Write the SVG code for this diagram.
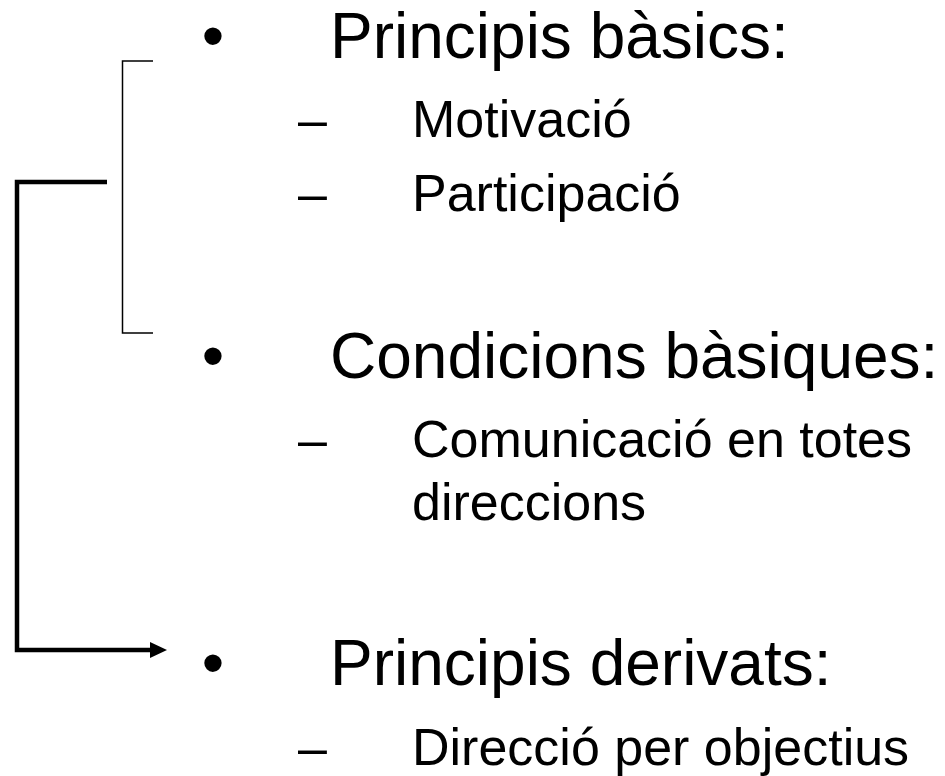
<svg xmlns="http://www.w3.org/2000/svg" width="945" height="776" viewBox="0 0 945 776">
<style>
text{font-family:"Liberation Sans",Arial,sans-serif;fill:#000}
.h{font-size:64px}
.s{font-size:52px}
.b{font-size:64px;text-anchor:middle}
.thin{fill:none;stroke:#000;stroke-width:1.5}
.thick{fill:none;stroke:#000;stroke-width:4.5}
</style>
<defs>
<marker id="arr" markerWidth="17" markerHeight="16" refX="2" refY="8" orient="auto" markerUnits="userSpaceOnUse" viewBox="0 0 17 16">
<path d="M0,0 L17,8 L0,16 Z" fill="#000"/>
</marker>
</defs>
<g id="connectors">
<path class="thin" d="M153,61 H122.5 V333 H153"/>
<path class="thick" d="M107,182 H17 V650 H152" marker-end="url(#arr)"/>
</g>
<g id="node-principis-basics">
<text class="b" x="213" y="58">•</text>
<text class="h" x="330" y="58">Principis bàsics:</text>
<text class="s" x="298" y="137">–</text>
<text class="s" x="412" y="137">Motivació</text>
<text class="s" x="298" y="211">–</text>
<text class="s" x="412" y="211">Participació</text>
</g>
<g id="node-condicions-basiques">
<text class="b" x="213" y="378">•</text>
<text class="h" x="330" y="378">Condicions bàsiques:</text>
<text class="s" x="298" y="457">–</text>
<text class="s" x="412" y="457">Comunicació en totes</text>
<text class="s" x="412" y="520">direccions</text>
</g>
<g id="node-principis-derivats">
<text class="b" x="213" y="685">•</text>
<text class="h" x="330" y="685">Principis derivats:</text>
<text class="s" x="298" y="765">–</text>
<text class="s" x="412" y="765">Direcció per objectius</text>
</g>
</svg>
